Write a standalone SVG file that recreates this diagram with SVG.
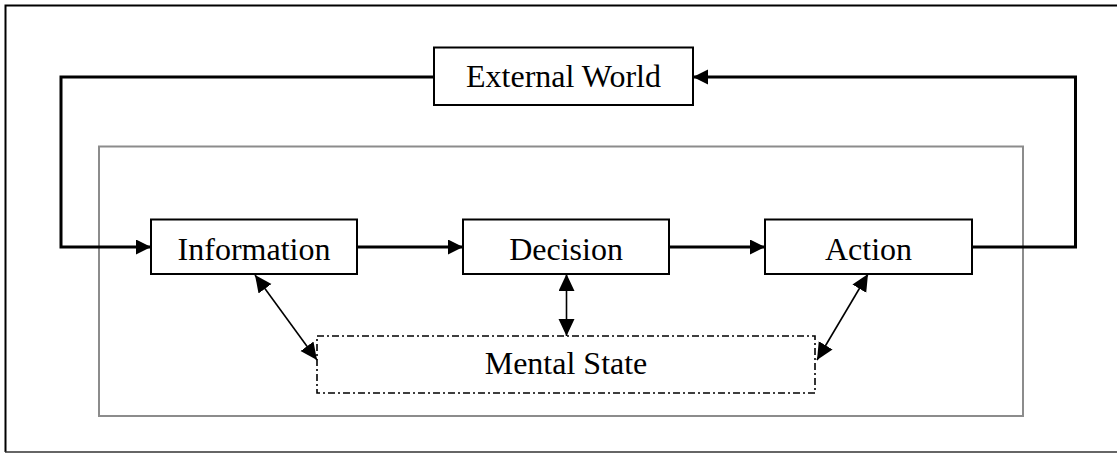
<svg xmlns="http://www.w3.org/2000/svg" width="1117" height="453" viewBox="0 0 1117 453">
  <style>
    .box { fill: #ffffff; stroke: #000000; stroke-width: 2; }
    .dash { fill: none; stroke: #000000; stroke-width: 1.6; stroke-dasharray: 7 3 2 3; }
    .lbl { font-family: "Liberation Serif", "Times New Roman", serif; font-size: 32px; fill: #000000; text-anchor: middle; }
    .thick { fill: none; stroke: #000000; stroke-width: 3; marker-end: url(#headBig); }
    .thin { fill: none; stroke: #000000; stroke-width: 1.6; marker-start: url(#headSmall); marker-end: url(#headSmall); }
  </style>
  <defs>
    <marker id="headBig" markerUnits="userSpaceOnUse" markerWidth="16" markerHeight="16" refX="15" refY="7.5" orient="auto" viewBox="0 0 16 16">
      <path d="M0,0 L15,7.5 L0,15 z" fill="#000000"/>
    </marker>
    <marker id="headSmall" markerUnits="userSpaceOnUse" markerWidth="18" markerHeight="18" refX="17" refY="8" orient="auto-start-reverse" viewBox="0 0 18 18">
      <path d="M0,0 L17,8 L0,16 z" fill="#000000"/>
    </marker>
  </defs>
  <rect width="1117" height="453" fill="#ffffff"/>
  <g id="frame">
    <path d="M1118,5.5 L5.5,5.5 L5.5,452" fill="none" stroke="#000000" stroke-width="2"/>
    <line x1="5" y1="452" x2="1118" y2="452" stroke="#333333" stroke-width="1.5"/>
  </g>
  <g id="system-boundary">
    <rect x="99" y="146.5" width="924" height="269.5" fill="none" stroke="#8c8c8c" stroke-width="2"/>
  </g>
  <g id="connectors">
    <path class="thick" d="M972,247 L1075.5,247 L1075.5,77 L693,77"/>
    <path class="thick" d="M434,77 L61,77 L61,247 L151,247"/>
    <path class="thick" d="M357,247 L463,247"/>
    <path class="thick" d="M669,247 L765,247"/>
    <path class="thin" d="M255,275 L317,360"/>
    <path class="thin" d="M566.5,274 L566.5,336"/>
    <path class="thin" d="M868,274 L817,360"/>
  </g>
  <g id="external-world">
    <rect class="box" x="434" y="47.5" width="259" height="57.5"/>
    <text class="lbl" x="563.5" y="87">External World</text>
  </g>
  <g id="information">
    <rect class="box" x="151" y="219.5" width="206" height="54.5"/>
    <text class="lbl" x="254" y="260">Information</text>
  </g>
  <g id="decision">
    <rect class="box" x="463" y="219.5" width="206" height="54.5"/>
    <text class="lbl" x="566" y="260">Decision</text>
  </g>
  <g id="action">
    <rect class="box" x="765" y="219.5" width="207" height="54.5"/>
    <text class="lbl" x="868.5" y="260">Action</text>
  </g>
  <g id="mental-state">
    <rect class="dash" x="317" y="336" width="498" height="57"/>
    <text class="lbl" x="566" y="374">Mental State</text>
  </g>
</svg>
